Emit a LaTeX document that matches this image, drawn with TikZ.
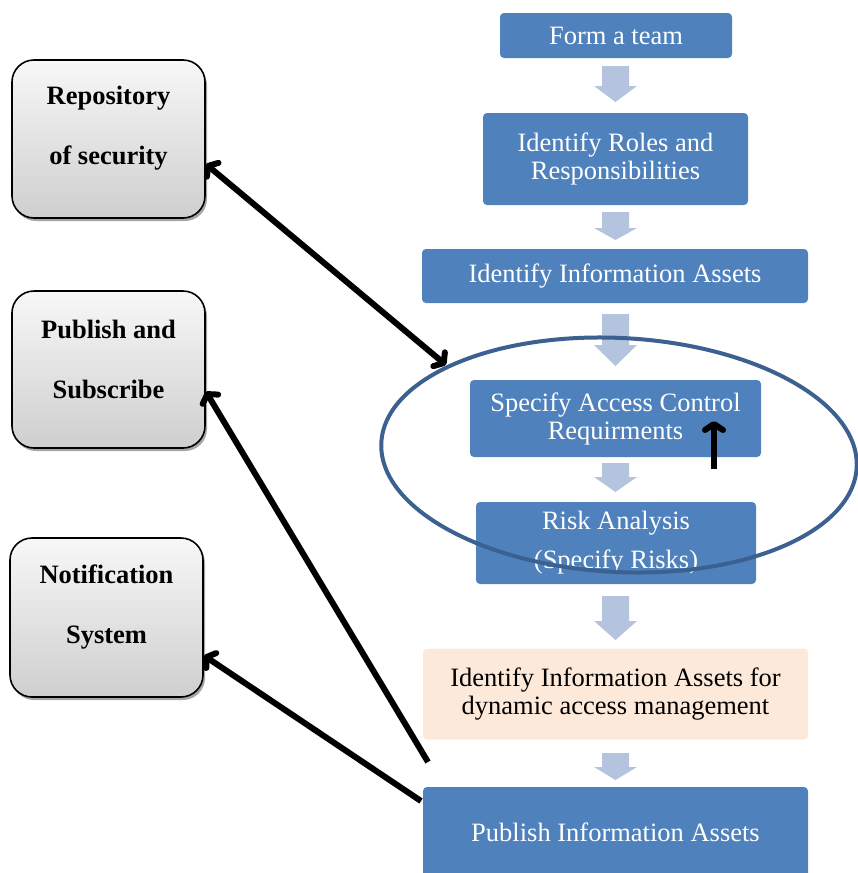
\documentclass[tikz,border=0pt]{standalone}
\usepackage{fontspec}
\setmainfont{Liberation Serif}
\usetikzlibrary{arrows.meta,shadows}

\definecolor{boxblue}{HTML}{4F81BD}
\definecolor{arrowblue}{HTML}{B4C4DF}
\definecolor{peach}{HTML}{FDE9D9}
\definecolor{ringblue}{HTML}{3C6190}

\tikzset{
  stepbox/.style={rectangle, rounded corners=4pt, fill=boxblue, text=white,
    align=center, inner sep=0pt, font=\fontsize{26.5}{28}\selectfont},
  sidebox/.style={rectangle, rounded corners=22pt, draw=black, line width=1.6pt,
    top color=gray!6, bottom color=gray!38, minimum width=193pt,
    drop shadow={shadow xshift=2pt, shadow yshift=-3pt, fill=black, opacity=0.35}},
  sidetext/.style={align=center, font=\fontsize{26.5}{60}\bfseries\selectfont},
  linkarrow/.style={draw=black, line width=6pt,
    -{Straight Barb[length=6pt, width=18pt, round]}},
}

\begin{document}
\begin{tikzpicture}[x=1pt, y=-1pt]
            \useasboundingbox (0,0) rectangle (857,873);

            % Steps of the process
            \node[stepbox, minimum width=232pt, minimum height=45pt] (form) at (616,35.5) {Form a team};
            \node[stepbox, minimum width=265pt, minimum height=92pt] (roles) at (615.5,159) {Identify Roles and\\Responsibilities};
            \node[stepbox, minimum width=386pt, minimum height=54pt] (assets) at (615,276) {Identify Information Assets};
            \node[stepbox, minimum width=291pt, minimum height=77pt] (access) at (615.5,418.5) {Specify Access Control\\Requirments};
            \node[stepbox, minimum width=280pt, minimum height=82pt, font=\fontsize{26.5}{39}\selectfont] (risk) at (616,543) {Risk Analysis\\(Specify Risks)};
            \node[stepbox, fill=peach, text=black, minimum width=385pt, minimum height=91pt] (dynamic) at (615.5,694) {Identify Information Assets for\\dynamic access management};
            \node[stepbox, minimum width=385pt, minimum height=90pt] (publish) at (615.5,832) {Publish Information Assets};

            % Block arrows between the steps
            \foreach \ytop/\ymid/\ytip in {66/86/102, 212/228/240, 314/345/366, 463/477/492, 596/621/640, 753/767/780}
              \fill[arrowblue] (602,\ytop) -- (629,\ytop) -- (629,\ymid) -- (637,\ymid) -- (615.5,\ytip) -- (594,\ymid) -- (602,\ymid) -- cycle;

            % Ring round access control and risk analysis
            \draw[ringblue, line width=4pt, rotate around={-3:(619,455)}] (619,455) ellipse [x radius=238, y radius=117];

            % Side components
            \node[sidebox, minimum height=158pt] (repo) at (108.5,139) {};
            \node[sidetext] (repo-label) at (108.5,128) {Repository\\of security};
            \node[sidebox, minimum height=157pt] (pubsub) at (108.5,369.5) {};
            \node[sidetext] (pubsub-label) at (108.5,359) {Publish and\\Subscribe};
            \node[sidebox, minimum height=159pt] (notif) at (106.5,617.5) {};
            \node[sidetext] (notif-label) at (106.5,607) {Notification\\System};

            % Connectors
            \coordinate (ring-in) at (446,365);
            \coordinate (pub-top) at (428,762);
            \coordinate (pub-left) at (421,801);
            \coordinate (up-tail) at (714,469);
            \coordinate (up-head) at (714,421);
            \draw[linkarrow, {Straight Barb[length=6pt, width=18pt, round]}-{Straight Barb[length=6pt, width=18pt, round]}] ([yshift=-25pt]repo.east) -- (ring-in);
            \draw[linkarrow] (pub-top) -- ([yshift=-22pt]pubsub.east);
            \draw[linkarrow] (pub-left) -- ([yshift=-38pt]notif.east);
            \draw[linkarrow] (up-tail) -- (up-head);
        \end{tikzpicture}
\end{document}
